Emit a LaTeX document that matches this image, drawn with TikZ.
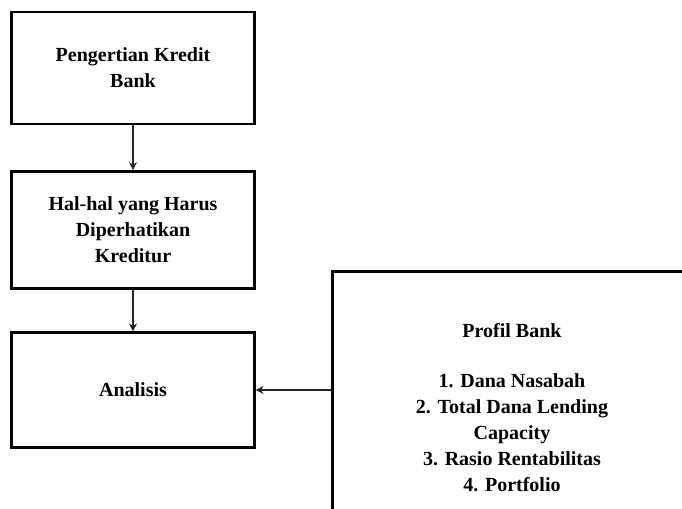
\documentclass[tikz,border=0pt]{standalone}
\usepackage{fontspec}
\setmainfont{Liberation Serif}
\usetikzlibrary{arrows.meta,positioning}

\tikzset{
  kotak/.style={draw, line width=1.8pt, fill=white, align=center,
    font=\bfseries\fontsize{15}{19.5}\selectfont},
  panah/.style={-{Stealth[length=6pt,width=6pt]}, line width=0.9pt, draw=black!85}
}

\begin{document}
\begin{tikzpicture}[x=0.75pt,y=-0.75pt]
    \useasboundingbox (0,0) rectangle (682,509);
    \clip (0,0) rectangle (682,509);
    % Kotak alur kiri
    \node[kotak, minimum width=182pt, minimum height=84pt] (pengertian) at (133,68)
      {Pengertian Kredit\\Bank};
    \node[kotak, minimum width=182pt, minimum height=88pt] (hal) at (133,230)
      {Hal-hal yang Harus\\Diperhatikan\\Kreditur};
    \node[kotak, minimum width=182pt, minimum height=86pt] (analisis) at (133,390)
      {Analisis};
    % Kotak profil di kanan
    \node[kotak, minimum width=269pt, minimum height=205pt] (profil) at (512,408)
      {Profil Bank\\[18pt]1. Dana Nasabah\\2. Total Dana Lending\\Capacity\\3. Rasio Rentabilitas\\4. Portfolio};
    % Panah
    \draw[panah] (pengertian) -- (hal);
    \draw[panah] (hal) -- (analisis);
    \draw[panah] (profil.west |- analisis.east) -- (analisis.east);
\end{tikzpicture}
\end{document}
